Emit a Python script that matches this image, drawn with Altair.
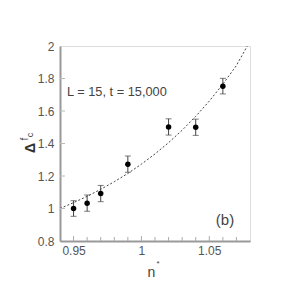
import altair as alt
import pandas as pd

# data points
n_vals = [0.95, 0.96, 0.97, 0.99, 1.02, 1.04, 1.06]
df_vals = [1.00, 1.033, 1.092, 1.273, 1.502, 1.50, 1.753]
err_vals = [0.048, 0.05, 0.05, 0.05, 0.05, 0.05, 0.048]

# dashed fit curve
curve_n = [0.94, 0.95, 0.96, 0.97, 0.98, 0.99, 1.00, 1.01, 1.02, 1.03, 1.04, 1.05, 1.06, 1.07, 1.078]
curve_f = [1.00, 1.036, 1.075, 1.118, 1.165, 1.216, 1.273, 1.336, 1.405, 1.482, 1.567, 1.661, 1.765, 1.880, 2.0]

x_major = [0.95, 1.0, 1.05]
x_minor = [0.96, 0.97, 0.98, 0.99, 1.01, 1.02, 1.03, 1.04, 1.06, 1.07]
y_major = [0.8, 1.0, 1.2, 1.4, 1.6, 1.8, 2.0]

pts = pd.DataFrame({"n": n_vals, "f": df_vals,
                    "lo": [v - e for v, e in zip(df_vals, err_vals)],
                    "hi": [v + e for v, e in zip(df_vals, err_vals)]})
curve = pd.DataFrame({"n": curve_n, "f": curve_f})

W, H = 190, 195
FONT = "Liberation Sans"
GRAY = "#555555"

xs = alt.Scale(domain=[0.94, 1.08], nice=False, zero=False)
ys = alt.Scale(domain=[0.8, 2.0], nice=False, zero=False)

xax = alt.Axis(values=x_major, format="~g", title=None, ticks=False, labelPadding=4,
               labelOverlap=False, grid=False)
yax = alt.Axis(values=y_major, format="~g", title=None, ticks=False, labelPadding=6,
               labelOverlap=False, labelFlush=False, grid=False)

base = alt.Chart(pts)

line = alt.Chart(curve).mark_line(color="#444444", strokeWidth=1, strokeDash=[2, 2], clip=True).encode(
    x=alt.X("n:Q", scale=xs, axis=xax),
    y=alt.Y("f:Q", scale=ys, axis=yax),
)

bars = base.mark_rule(color="#444444", strokeWidth=1).encode(
    x=alt.X("n:Q", axis=xax), y=alt.Y("lo:Q", axis=yax), y2="hi:Q")
caps_lo = base.mark_tick(color="#444444", thickness=1, size=6, orient="horizontal").encode(
    x=alt.X("n:Q", axis=xax), y=alt.Y("lo:Q", axis=yax))
caps_hi = base.mark_tick(color="#444444", thickness=1, size=6, orient="horizontal").encode(
    x=alt.X("n:Q", axis=xax), y=alt.Y("hi:Q", axis=yax))
dots = base.mark_circle(color="black", opacity=1, size=30).encode(
    x=alt.X("n:Q", axis=xax), y=alt.Y("f:Q", axis=yax))

# inward ticks
xt_major = alt.Chart(pd.DataFrame({"n": x_major})).mark_rule(color="#aaaaaa", strokeWidth=1).encode(
    x=alt.X("n:Q", axis=xax), y=alt.value(H), y2=alt.value(H - 5))
xt_minor = alt.Chart(pd.DataFrame({"n": x_minor})).mark_rule(color="#aaaaaa", strokeWidth=1).encode(
    x=alt.X("n:Q", axis=xax), y=alt.value(H), y2=alt.value(H - 4))
yt = alt.Chart(pd.DataFrame({"f": y_major[1:-1]})).mark_rule(color="#bbbbbb", strokeWidth=1).encode(
    y=alt.Y("f:Q", axis=yax), x=alt.value(0), x2=alt.value(5))

txt = alt.Chart(pd.DataFrame({"t": ["L = 15, t = 15,000"]})).mark_text(
    align="left", baseline="middle", font=FONT, fontSize=12.8, color="#444444").encode(
    text="t:N", x=alt.value(7), y=alt.value(46))
lab_b = alt.Chart(pd.DataFrame({"t": ["(b)"]})).mark_text(
    align="center", baseline="middle", font=FONT, fontSize=15, color="#444444").encode(
    text="t:N", x=alt.value(165), y=alt.value(174))

# axis titles
yt_delta = alt.Chart(pd.DataFrame({"t": ["Δ"]})).mark_text(
    angle=270, align="center", baseline="middle", font=FONT, fontSize=14, fontWeight="bold",
    color="#333333").encode(text="t:N", x=alt.value(-29.5), y=alt.value(102))
yt_f = alt.Chart(pd.DataFrame({"t": ["f"]})).mark_text(
    angle=270, align="center", baseline="middle", font=FONT, fontSize=10,
    color="#444444").encode(text="t:N", x=alt.value(-35), y=alt.value(93))
yt_c = alt.Chart(pd.DataFrame({"t": ["c"]})).mark_text(
    angle=270, align="center", baseline="middle", font=FONT, fontSize=9,
    color="#444444").encode(text="t:N", x=alt.value(-30), y=alt.value(89))
xt_n = alt.Chart(pd.DataFrame({"t": ["n"]})).mark_text(
    align="center", baseline="middle", font=FONT, fontSize=14, color="#444444").encode(
    text="t:N", x=alt.value(91.5), y=alt.value(227))
xt_star = alt.Chart(pd.DataFrame({"t": ["*"]})).mark_text(
    align="center", baseline="middle", font=FONT, fontSize=8, color="#444444").encode(
    text="t:N", x=alt.value(98), y=alt.value(218))

chart = alt.layer(
    line, xt_major, xt_minor, yt, bars, caps_lo, caps_hi, dots, txt, lab_b,
    yt_delta, yt_f, yt_c, xt_n, xt_star
).properties(
    width=W, height=H,
    autosize=alt.AutoSizeParams(type="none"),
    padding={"left": 52, "top": 38, "right": 40, "bottom": 50},
).configure_view(stroke="#555555", strokeWidth=1).configure(background="white").configure_axis(
    labelOverlap=False, labelFont=FONT, labelFontSize=12, labelColor=GRAY,
    domainColor="#999999", domainWidth=2
)

chart.save("out.html", embed_options={"renderer": "svg", "actions": False})
